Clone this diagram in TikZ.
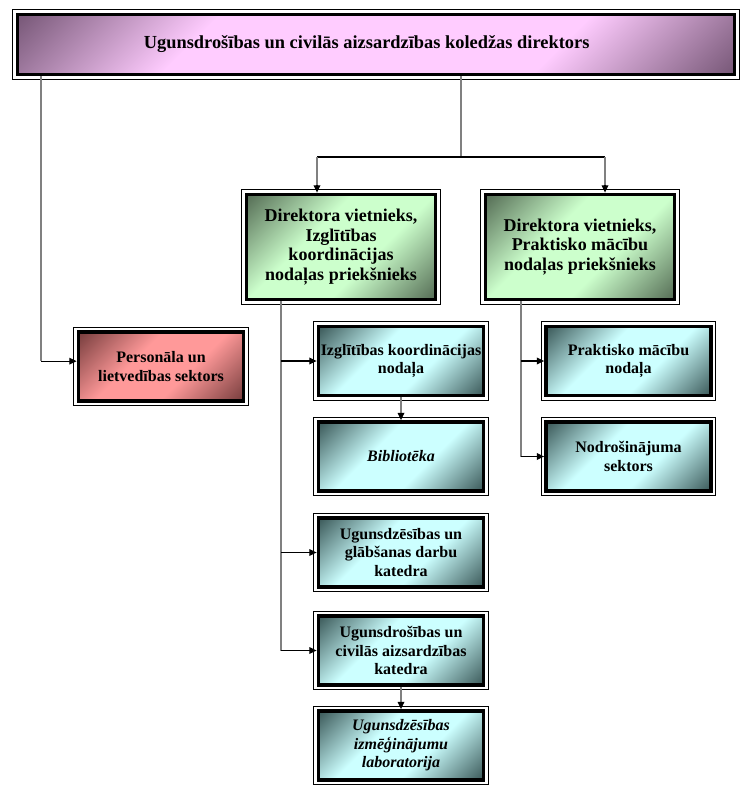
\documentclass[tikz,border=0pt]{standalone}
\usepackage{fontspec}
\setmainfont{Liberation Serif}
\usetikzlibrary{arrows.meta,calc}
\definecolor{pdark}{HTML}{7A5A7A}
\definecolor{plight}{HTML}{FFCCFF}
\definecolor{gdark}{HTML}{566E56}
\definecolor{glight}{HTML}{CCFFCC}
\definecolor{rdark}{HTML}{783E3E}
\definecolor{rlight}{HTML}{FF9999}
\definecolor{cdark}{HTML}{3C5A5A}
\definecolor{clight}{HTML}{CCFFFF}
\definecolor{linegrey}{HTML}{808080}
\pgfdeclareverticalshading{pinksh}{100bp}{color(0bp)=(pdark); color(15bp)=(pdark); color(33bp)=(plight); color(67bp)=(plight); color(85bp)=(pdark); color(100bp)=(pdark)}
\pgfdeclareverticalshading{greensh}{100bp}{color(0bp)=(gdark); color(15bp)=(gdark); color(40bp)=(glight); color(60bp)=(glight); color(85bp)=(gdark); color(100bp)=(gdark)}
\pgfdeclareverticalshading{redsh}{100bp}{color(0bp)=(rdark); color(15bp)=(rdark); color(40bp)=(rlight); color(60bp)=(rlight); color(85bp)=(rdark); color(100bp)=(rdark)}
\pgfdeclareverticalshading{cyansh}{100bp}{color(0bp)=(cdark); color(15bp)=(cdark); color(40bp)=(clight); color(60bp)=(clight); color(85bp)=(cdark); color(100bp)=(cdark)}
\tikzset{
  box/.style={draw=black, line width=2.6pt, shading angle=45, align=center, inner sep=0pt,
    font=\fontsize{12pt}{13.8pt}\selectfont\bfseries},
  topbox/.style={box, shading=pinksh, minimum width=538pt, minimum height=45pt,
    font=\fontsize{13.8pt}{15pt}\selectfont\bfseries},
  greenbox/.style={box, shading=greensh, minimum width=142pt, minimum height=79pt,
    font=\fontsize{13.5pt}{14.6pt}\selectfont\bfseries},
  redbox/.style={box, shading=redsh, minimum width=124pt, minimum height=51.5pt},
  cyanbox/.style={box, shading=cyansh, minimum width=124pt, minimum height=52pt},
  frame/.style={draw=black, line width=0.7pt},
  greyline/.style={draw=linegrey, line width=1.4pt},
  blackline/.style={draw=black, line width=0.9pt},
  tip/.style={-{Triangle[length=5.5pt,width=5pt]}},
}
\begin{document}
\begin{tikzpicture}[x=0.75pt,y=-0.75pt]
\useasboundingbox (0,0) rectangle (753,799);
% boxes
\node[topbox] (top) at (376,44.5) {Ugunsdrošības un civilās aizsardzības koledžas direktors\hspace*{14pt}};
\node[greenbox] (g1) at (341,247) {Direktora vietnieks,\\Izglītības\\koordinācijas\\nodaļas priekšnieks};
\node[greenbox] (g2) at (580,247) {Direktora vietnieks,\\Praktisko mācību\\nodaļas priekšnieks};
\node[redbox] (red) at (161,366.5) {Personāla un\\lietvedības sektors};
\node[cyanbox] (c1) at (401,361) {Izglītības koordinācijas\\nodaļa};
\node[cyanbox] (c2) at (401,456.5) {\itshape Bibliotēka};
\node[cyanbox] (c3) at (401,552.5) {Ugunsdzēsības un\\glābšanas darbu\\katedra};
\node[cyanbox] (c4) at (401,650.5) {Ugunsdrošības un\\civilās aizsardzības\\katedra};
\node[cyanbox] (c5) at (401,745.5) {\itshape Ugunsdzēsības\\\itshape izmēģinājumu\\\itshape laboratorija};
\node[cyanbox] (p1) at (628.5,361) {Praktisko mācību\\nodaļa};
\node[cyanbox] (p2) at (628.5,456.5) {Nodrošinājuma\\sektors};
% outer thin frames
\foreach \n in {top,g1,g2,red,c1,c2,c3,c4,c5,p1,p2}
  \draw[frame] ([shift={(-2.2pt,2.2pt)}]\n.north west) rectangle ([shift={(2.2pt,-2.2pt)}]\n.south east);
% junction coordinates
\coordinate (j0) at (461,157);
\coordinate (a1) at (317,157);
\coordinate (a2) at (605,157);
\coordinate (lx) at (41,0);
\coordinate (gx) at (281,0);
\coordinate (px) at (521,0);
\coordinate (ra) at ([yshift=4pt]red.west);
% top to deputies
\draw[greyline] (top.south -| j0) -- (j0);
\draw[blackline] (a1) -- (a2);
\draw[greyline] (a1) -- ($(a1 |- g1.north)+(0,-7)$);
\draw[greyline] (a2) -- ($(a2 |- g2.north)+(0,-7)$);
\draw[blackline,tip] ($(a1 |- g1.north)+(0,-8)$) -- (a1 |- g1.north);
\draw[blackline,tip] ($(a2 |- g2.north)+(0,-8)$) -- (a2 |- g2.north);
% left branch to red box
\draw[greyline] (top.south -| lx) -- (lx |- ra);
\draw[blackline,tip] (lx |- ra) -- (ra);
% left deputy branch
\draw[greyline] (g1.south -| gx) -- (gx |- c4.west);
\draw[blackline,tip] (gx |- c1.west) -- (c1.west);
\draw[blackline,tip] (gx |- c3.west) -- (c3.west);
\draw[blackline,tip] (gx |- c4.west) -- (c4.west);
% right deputy branch
\draw[greyline] (g2.south -| px) -- (px |- p2.west);
\draw[blackline,tip] (px |- p1.west) -- (p1.west);
\draw[blackline,tip] (px |- p2.west) -- (p2.west);
% sub-units
\draw[greyline] (c1.south) -- ($(c2.north)+(0,-6)$);
\draw[blackline,tip] ($(c2.north)+(0,-7)$) -- (c2.north);
\draw[greyline] (c4.south) -- ($(c5.north)+(0,-6)$);
\draw[blackline,tip] ($(c5.north)+(0,-7)$) -- (c5.north);
\end{tikzpicture}
\end{document}
